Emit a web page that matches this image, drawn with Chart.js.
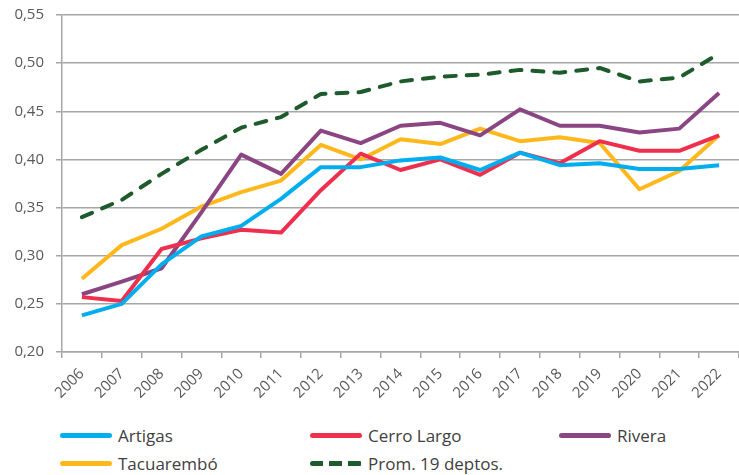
<!DOCTYPE html>
<html>
<head>
<meta charset="utf-8">
<script src="https://cdn.jsdelivr.net/npm/chart.js@4/dist/chart.umd.min.js"></script>
<style>
  html, body { margin: 0; padding: 0; background: #fff; }
  #wrap { position: relative; width: 739px; height: 475px; font-family: "Open Sans", sans-serif; }
  #chart { position: absolute; left: 0; top: 0; }
  .leg { position: absolute; display: flex; align-items: center; font-size: 17px; color: #404040; }
  .sw { width: 52px; height: 0; margin-right: 6px; }
</style>
</head>
<body>
<div id="wrap">
  <canvas id="chart" width="739" height="420"></canvas>
  <div id="legend"></div>
</div>
<script>
const years = ['2006', '2007', '2008', '2009', '2010', '2011', '2012', '2013', '2014',
  '2015', '2016', '2017', '2018', '2019', '2020', '2021', '2022'];

const artigas = [0.238, 0.250, 0.291, 0.320, 0.331, 0.359, 0.392, 0.392, 0.399,
  0.402, 0.389, 0.407, 0.394, 0.396, 0.390, 0.390, 0.394];
const cerroLargo = [0.257, 0.253, 0.307, 0.318, 0.327, 0.324, 0.368, 0.406, 0.389,
  0.400, 0.384, 0.407, 0.396, 0.419, 0.409, 0.409, 0.425];
const rivera = [0.260, 0.273, 0.287, 0.345, 0.405, 0.385, 0.430, 0.417, 0.435,
  0.438, 0.425, 0.452, 0.435, 0.435, 0.428, 0.432, 0.469];
const tacuarembo = [0.276, 0.311, 0.328, 0.351, 0.366, 0.378, 0.415, 0.400, 0.421,
  0.416, 0.432, 0.419, 0.423, 0.417, 0.369, 0.388, 0.425];
const promedio = [0.340, 0.358, 0.385, 0.410, 0.433, 0.444, 0.468, 0.470, 0.481,
  0.486, 0.488, 0.493, 0.490, 0.495, 0.481, 0.485, 0.510];

const yTicks = [0.20, 0.25, 0.30, 0.35, 0.40, 0.45, 0.50, 0.55];

const series = [
  { label: 'Artigas', data: artigas, color: '#00AEEF' },
  { label: 'Cerro Largo', data: cerroLargo, color: '#EE2F4E' },
  { label: 'Rivera', data: rivera, color: '#8B4582' },
  { label: 'Tacuarembó', data: tacuarembo, color: '#FFB81C' },
  { label: 'Prom. 19 deptos.', data: promedio, color: '#1D5A2C', dash: [11, 11] }
];

// legend spots (two rows, three columns like the original)
const legendPos = [[60, 435], [310, 435], [559, 435], [60, 463], [310, 463]];

const gridColor = '#A6A6A6';
const tickColor = '#595959';

new Chart(document.getElementById('chart'), {
  type: 'line',
  data: {
    labels: years,
    datasets: series.map(s => ({
      label: s.label,
      data: s.data,
      borderColor: s.color,
      backgroundColor: s.color,
      borderWidth: 4,
      borderDash: s.dash || [],
      borderCapStyle: s.dash ? 'round' : 'butt',
      borderJoinStyle: 'round',
      pointRadius: 0,
      tension: 0,
      fill: false
    }))
  },
  options: {
    responsive: false,
    animation: false,
    layout: { padding: { top: 15, right: 0, bottom: 0, left: 0 } },
    plugins: { legend: { display: false }, tooltip: { enabled: false } },
    scales: {
      x: {
        offset: true,
        grid: { display: true, drawOnChartArea: false, drawTicks: true, tickLength: 6,
          offset: true, color: gridColor, lineWidth: 1.5 },
        border: { color: gridColor, width: 1.5 },
        ticks: { color: tickColor, font: { family: 'Open Sans', size: 15 },
          minRotation: 45, maxRotation: 45, padding: 7, autoSkip: false },
        afterFit: s => { s.height = 68; s.paddingLeft = 0; s.paddingRight = 0; }
      },
      y: {
        min: 0.2,
        max: 0.55,
        afterBuildTicks: s => { s.ticks = yTicks.map(v => ({ value: v })); },
        grid: { color: gridColor, lineWidth: 1.5, tickLength: 6 },
        border: { color: gridColor, width: 1.5 },
        ticks: { color: tickColor, font: { family: 'Open Sans', size: 15 }, padding: 12,
          callback: v => v.toFixed(2).replace('.', ',') },
        afterFit: s => { s.width = 62; s.paddingTop = 0; s.paddingBottom = 0; }
      }
    }
  }
});

const legendEl = document.getElementById('legend');
series.forEach((s, i) => {
  const item = document.createElement('div');
  item.className = 'leg';
  item.style.left = legendPos[i][0] + 'px';
  item.style.top = (legendPos[i][1] - 12) + 'px';
  item.style.height = '24px';
  const sw = document.createElement('div');
  sw.className = 'sw';
  sw.style.borderRadius = '3px';
  if (s.dash) {
    sw.style.height = '5px';
    sw.style.background = `repeating-linear-gradient(90deg, ${s.color} 0 13px, transparent 13px 19px)`;
  } else {
    sw.style.borderTop = '5px solid ' + s.color;
  }
  item.appendChild(sw);
  const txt = document.createElement('span');
  txt.textContent = s.label;
  item.appendChild(txt);
  legendEl.appendChild(item);
});
</script>
</body>
</html>
